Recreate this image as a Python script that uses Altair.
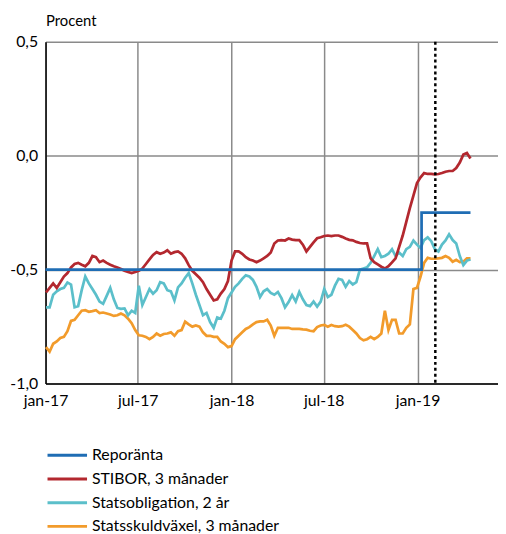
import altair as alt
import pandas as pd

# ---------------- data ----------------
week_start = "2017-01-02"
n_weeks = 120

stibor_3m = [
    -0.600, -0.580, -0.560, -0.580, -0.555, -0.530, -0.515, -0.490, -0.475, -0.470,
    -0.478, -0.485, -0.470, -0.440, -0.445, -0.467, -0.460, -0.470, -0.478, -0.485,
    -0.490, -0.497, -0.505, -0.510, -0.515, -0.510, -0.505, -0.495, -0.475, -0.455,
    -0.435, -0.423, -0.430, -0.425, -0.415, -0.430, -0.423, -0.420, -0.430, -0.450,
    -0.480, -0.505, -0.520, -0.535, -0.555, -0.585, -0.610, -0.635, -0.630, -0.605,
    -0.585, -0.550, -0.460, -0.420, -0.420, -0.430, -0.445, -0.455, -0.460, -0.467,
    -0.460, -0.450, -0.440, -0.425, -0.385, -0.372, -0.370, -0.372, -0.363, -0.368,
    -0.370, -0.370, -0.390, -0.420, -0.400, -0.380, -0.362, -0.358, -0.352, -0.350,
    -0.353, -0.350, -0.350, -0.356, -0.363, -0.369, -0.371, -0.378, -0.383, -0.385,
    -0.385, -0.450, -0.467, -0.477, -0.487, -0.495, -0.485, -0.468, -0.450, -0.400,
    -0.350, -0.290, -0.230, -0.175, -0.120, -0.095, -0.076, -0.080, -0.080, -0.082,
    -0.080, -0.076, -0.070, -0.067, -0.067, -0.054, -0.030, 0.005, 0.012, -0.012,
]

statsobligation_2y = [
    -0.665, -0.665, -0.610, -0.595, -0.585, -0.580, -0.556, -0.565, -0.665, -0.660,
    -0.590, -0.530, -0.560, -0.585, -0.610, -0.640, -0.650, -0.615, -0.580, -0.630,
    -0.668, -0.672, -0.670, -0.700, -0.680, -0.690, -0.570, -0.655, -0.620, -0.585,
    -0.605, -0.590, -0.555, -0.560, -0.590, -0.595, -0.635, -0.578, -0.560, -0.535,
    -0.515, -0.560, -0.610, -0.655, -0.700, -0.690, -0.730, -0.755, -0.710, -0.715,
    -0.680, -0.625, -0.600, -0.575, -0.560, -0.540, -0.525, -0.530, -0.545, -0.575,
    -0.620, -0.595, -0.585, -0.602, -0.610, -0.598, -0.625, -0.665, -0.642, -0.612,
    -0.640, -0.598, -0.630, -0.655, -0.660, -0.640, -0.662, -0.640, -0.585, -0.620,
    -0.610, -0.570, -0.540, -0.545, -0.575, -0.550, -0.565, -0.555, -0.500, -0.495,
    -0.490, -0.470, -0.440, -0.410, -0.445, -0.440, -0.430, -0.410, -0.440, -0.425,
    -0.440, -0.410, -0.400, -0.372, -0.390, -0.405, -0.370, -0.358, -0.375, -0.410,
    -0.420, -0.390, -0.372, -0.345, -0.370, -0.385, -0.440, -0.480, -0.460, -0.455,
]

statsskuldvaxel_3m = [
    -0.840, -0.860, -0.825, -0.815, -0.800, -0.795, -0.770, -0.725, -0.720, -0.700,
    -0.680, -0.678, -0.685, -0.682, -0.678, -0.690, -0.688, -0.692, -0.697, -0.703,
    -0.700, -0.692, -0.700, -0.715, -0.735, -0.765, -0.788, -0.790, -0.795, -0.805,
    -0.795, -0.780, -0.790, -0.782, -0.780, -0.775, -0.790, -0.770, -0.765, -0.728,
    -0.740, -0.750, -0.745, -0.750, -0.775, -0.790, -0.790, -0.795, -0.795, -0.815,
    -0.825, -0.840, -0.835, -0.805, -0.790, -0.775, -0.760, -0.752, -0.740, -0.730,
    -0.727, -0.727, -0.720, -0.745, -0.790, -0.755, -0.755, -0.755, -0.755, -0.760,
    -0.760, -0.760, -0.762, -0.763, -0.768, -0.770, -0.752, -0.745, -0.742, -0.750,
    -0.743, -0.748, -0.750, -0.748, -0.742, -0.750, -0.765, -0.780, -0.800, -0.810,
    -0.805, -0.795, -0.805, -0.795, -0.780, -0.680, -0.765, -0.720, -0.720, -0.780,
    -0.780, -0.755, -0.740, -0.585, -0.580, -0.530, -0.470, -0.448, -0.452, -0.452,
    -0.450, -0.448, -0.440, -0.448, -0.465, -0.457, -0.467, -0.465, -0.450, -0.450,
]

repo_dates = ["2017-01-01", "2019-01-09", "2019-04-15"]
repo_values = [-0.50, -0.25, -0.25]

marker_dates = ["2019-02-05"]

series_names = [
    "Reporänta",
    "STIBOR, 3 månader",
    "Statsobligation, 2 år",
    "Statsskuldväxel, 3 månader",
]
series_colors = ["#1f6db4", "#b3282f", "#5bbfca", "#f29b2b"]

y_ticks = [-1.0, -0.5, 0.0, 0.5]
x_tick_months = [(2017, 1), (2017, 7), (2018, 1), (2018, 7), (2019, 1)]

# ---------------- build tables ----------------
weeks = pd.date_range(week_start, periods=n_weeks, freq="7D").strftime("%Y-%m-%dT00:00:00").tolist()


def frame(dates, values, name):
    return pd.DataFrame({"date": dates, "value": values, "series": name})


df_repo = frame([d + "T00:00:00" for d in repo_dates], repo_values, series_names[0])
df_stibor = frame(weeks, stibor_3m, series_names[1])
df_bond = frame(weeks, statsobligation_2y, series_names[2])
df_bill = frame(weeks, statsskuldvaxel_3m, series_names[3])
df_marker = pd.DataFrame({"date": [d + "T00:00:00" for d in marker_dates]})

FONT = "Lato"

x_enc = alt.X(
    "date:T",
    scale=alt.Scale(domain=[alt.DateTime(year=2017, month=1, date=1),
                            alt.DateTime(year=2019, month=6, date=8)]),
    axis=alt.Axis(
        title=None,
        values=[alt.DateTime(year=y, month=m, date=1) for y, m in x_tick_months],
        labelExpr="(month(datum.value) == 0 ? 'jan-' : 'jul-') + timeFormat(datum.value, '%y')",
        labelFont=FONT, labelFontSize=16, labelColor="black", labelPadding=9,
        labelFlush=False, labelOverlap=False,
        ticks=False, grid=True, gridColor="#8a8a8a", gridWidth=1.5,
        domainColor="black", domainWidth=1.5,
    ),
)

y_enc = alt.Y(
    "value:Q",
    scale=alt.Scale(domain=[-1.0, 0.5], nice=False, zero=False),
    axis=alt.Axis(
        title="Procent",
        titleAngle=0, titleX=0, titleY=-22, titleAlign="left", titleBaseline="middle",
        titleFont=FONT, titleFontSize=15, titleFontWeight="normal", titleColor="black",
        values=y_ticks,
        labelExpr="(datum.value < 0 ? '-' : '') + replace(format(abs(datum.value), '.1f'), '.', ',')",
        labelFont=FONT, labelFontSize=16, labelColor="black", labelPadding=8,
        ticks=False, grid=True, gridColor="#8a8a8a", gridWidth=1.5,
        domainColor="black", domainWidth=1.5,
    ),
)

legend = alt.Legend(
    title=None, orient="none", legendX=10.5, legendY=407,
    symbolType="M-2,0H2", symbolSize=400, symbolStrokeWidth=3,
    labelFont=FONT, labelFontSize=16, labelColor="black", labelOffset=13.5,
    labelLimit=0, rowPadding=4, padding=0, direction="vertical",
)

color_enc = alt.Color(
    "series:N",
    scale=alt.Scale(domain=series_names, range=series_colors),
    legend=legend,
)


def line_layer(df, **kw):
    return alt.Chart(df).mark_line(strokeWidth=2.75, **kw).encode(x=x_enc, y=y_enc, color=color_enc)


layers = [
    line_layer(df_bill),
    line_layer(df_bond),
    line_layer(df_stibor),
    line_layer(df_repo, interpolate="step-after"),
    alt.Chart(df_marker).mark_rule(color="black", strokeDash=[3, 3], strokeWidth=2.5).encode(x=x_enc),
]

chart = alt.layer(*layers).properties(
    width=458,
    height=346,
    autosize=alt.AutoSizeParams(type="none"),
    padding={"left": 38, "top": 31, "right": 0, "bottom": 149},
).configure_view(stroke=None)

chart.save("out.html", embed_options={"renderer": "svg", "actions": False})
